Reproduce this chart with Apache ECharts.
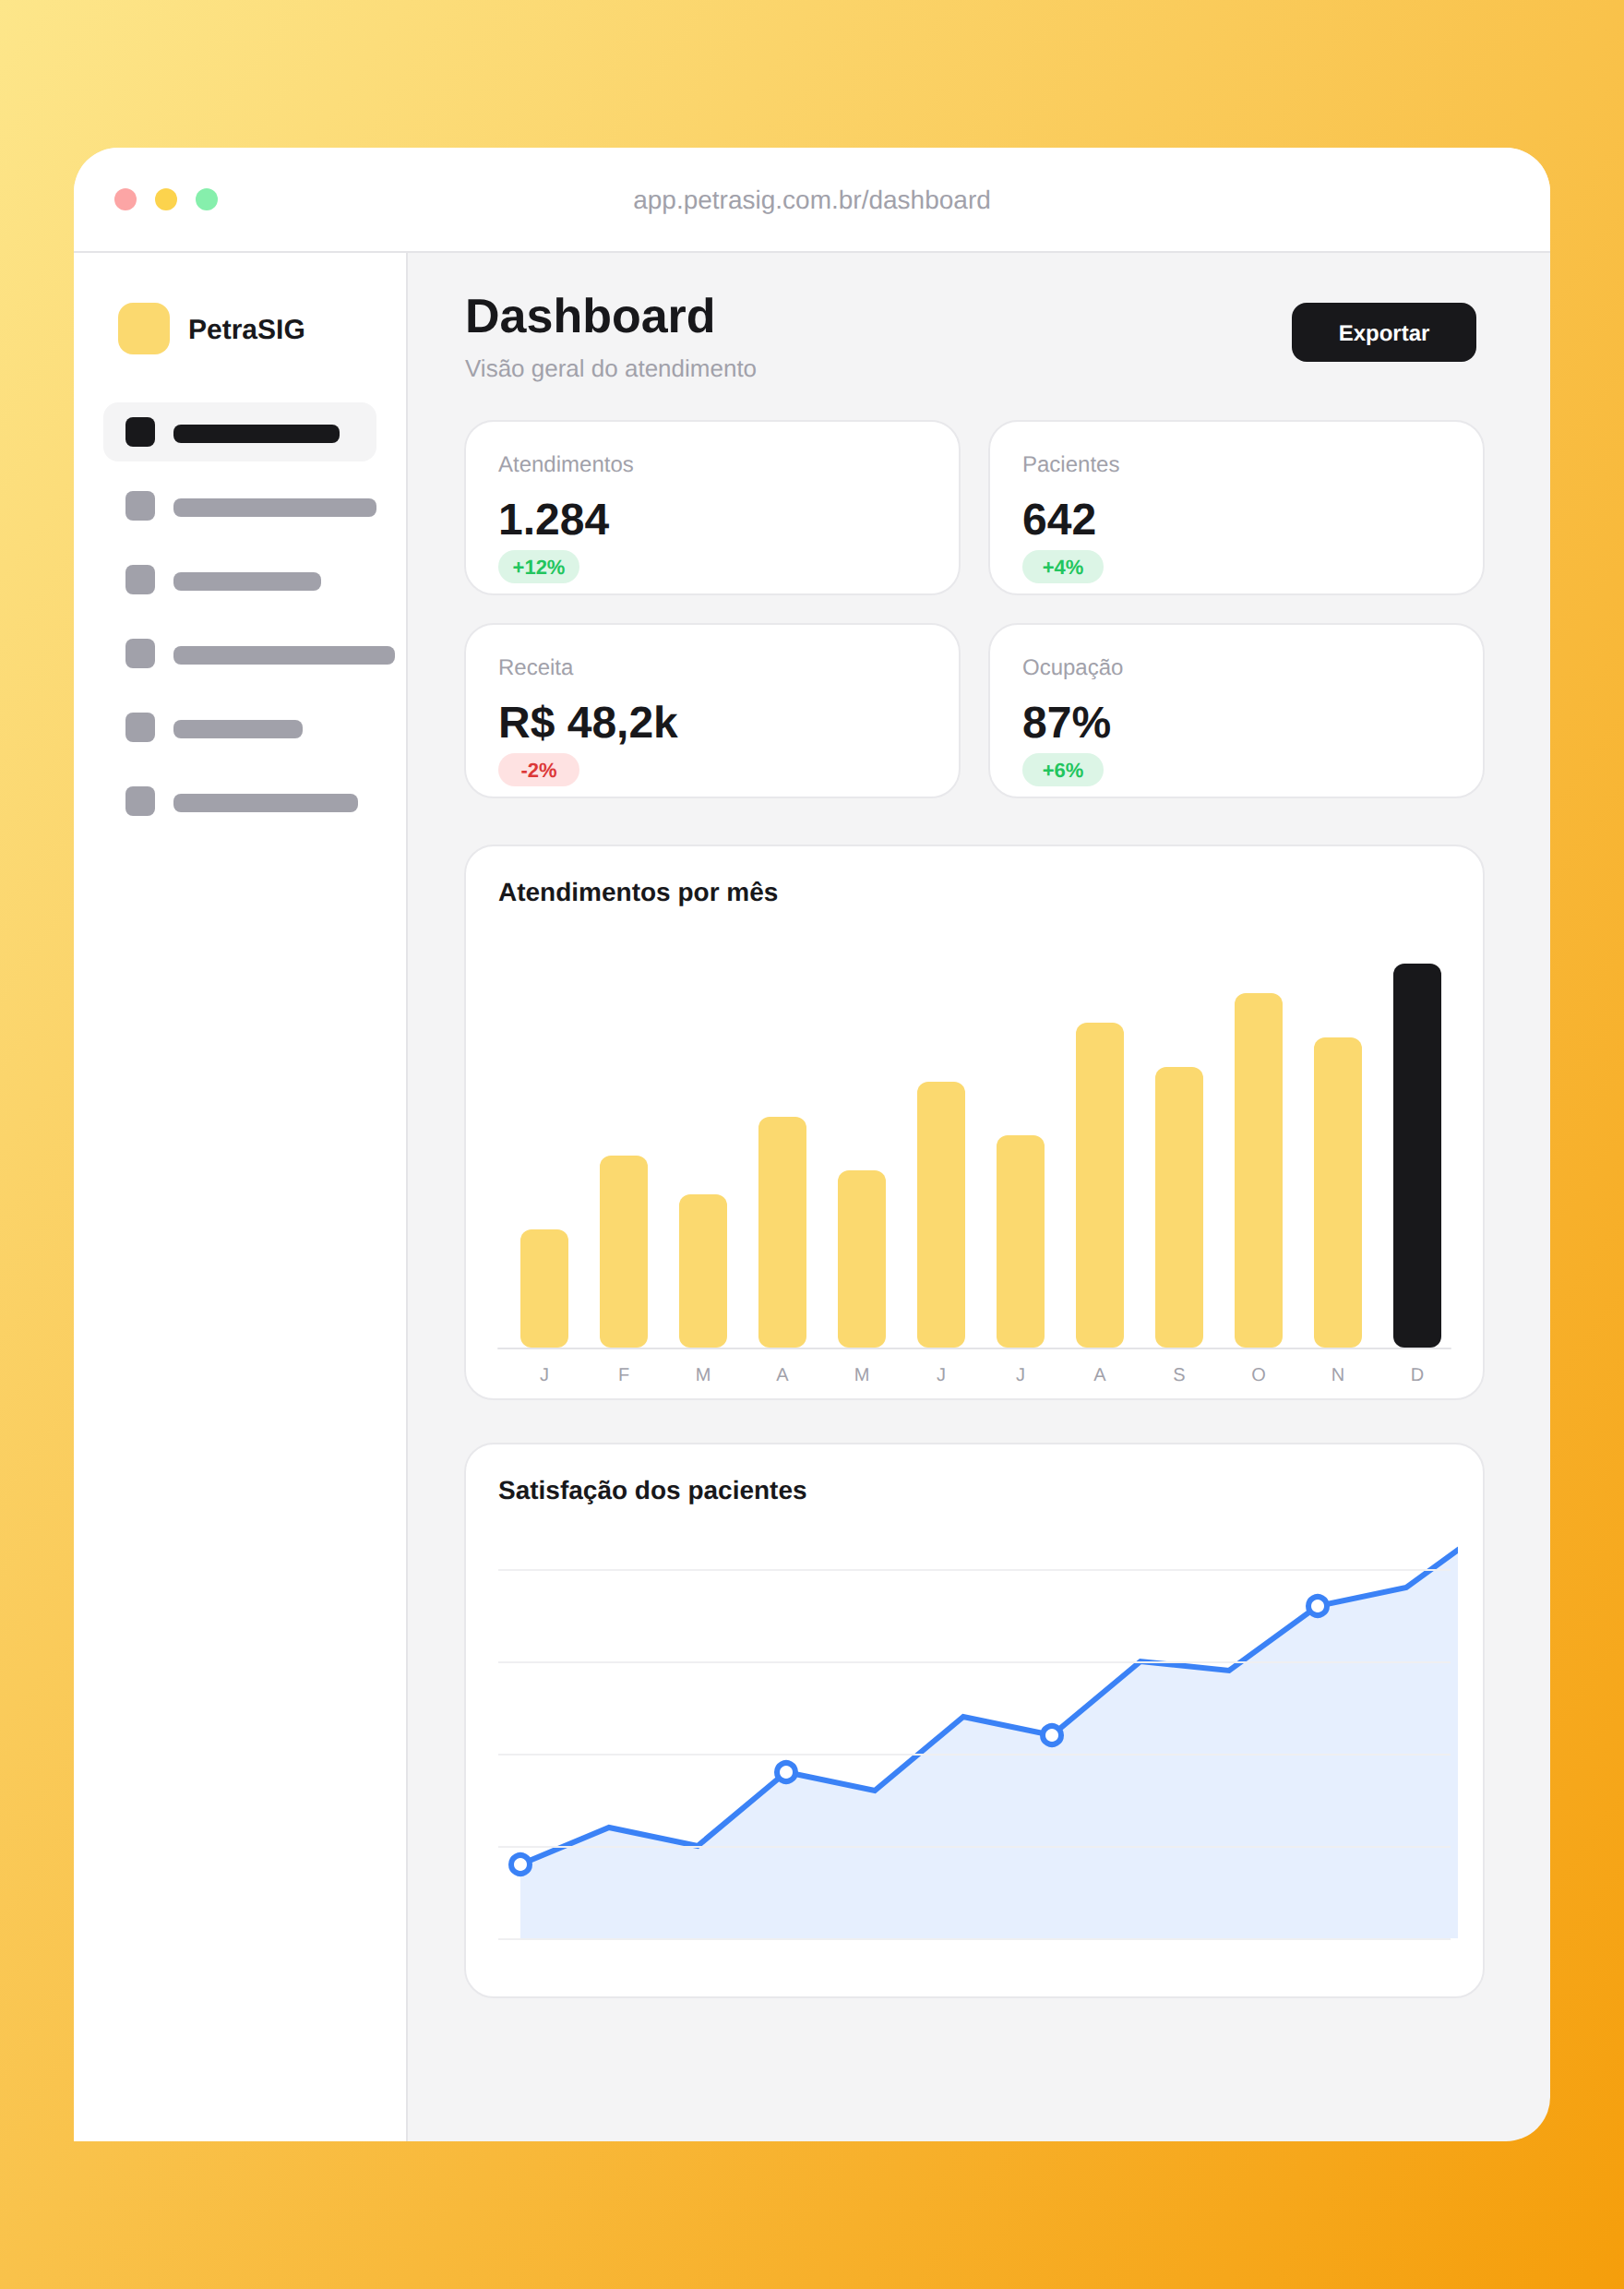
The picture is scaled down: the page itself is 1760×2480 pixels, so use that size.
<!DOCTYPE html>
<html>
<head>
<meta charset="utf-8">
<script src="https://cdn.jsdelivr.net/npm/echarts@6/dist/echarts.min.js"></script>
<style>
  html, body { margin: 0; padding: 0; }
  body {
    position: relative; width: 1760px; height: 2480px; overflow: hidden;
    background: linear-gradient(to bottom right, #fde68a 0%, #f59e0b 100%);
    font-family: "Liberation Sans", Arial, sans-serif;
    text-rendering: geometricPrecision;
  }
  .abs, .abs-text { position: absolute; box-sizing: border-box; }
  .abs-text { white-space: nowrap; line-height: 1; }
  .window { left: 80px; top: 160px; width: 1600px; height: 2160px; background: #f4f4f5; border-radius: 48px; }
  .topbar { left: 80px; top: 160px; width: 1600px; height: 114px; background: #fff; border-bottom: 2px solid #e4e4e7; border-radius: 48px 48px 0 0; }
  .sidebar { left: 80px; top: 274px; width: 362px; height: 2046px; background: #fff; border-right: 2px solid #e4e4e7; }
  .dot { top: 204px; width: 24px; height: 24px; border-radius: 50%; }
  .url { left: 80px; width: 1600px; top: 203px; text-align: center; font-size: 28px; color: #a1a1aa; }
  .logo { left: 128px; top: 328px; width: 56px; height: 56px; border-radius: 16px; background: #fbd96f; }
  .brand { left: 204px; top: 343px; font-size: 30px; font-weight: 700; color: #18181b; }
  .nav-active { left: 112px; top: 436px; width: 296px; height: 64px; border-radius: 16px; background: #f4f4f5; }
  .nav-icon { left: 136px; width: 32px; height: 32px; border-radius: 8px; }
  .nav-bar { left: 188px; height: 20px; border-radius: 8px; }
  .title { left: 504px; top: 317px; font-size: 52px; font-weight: 700; color: #18181b; }
  .subtitle { left: 504px; top: 386px; font-size: 26px; color: #a1a1aa; }
  .export { left: 1400px; top: 328px; width: 200px; height: 64px; border-radius: 16px; background: #18181b; color: #fff; font-size: 24px; font-weight: 700; line-height: 68px; text-align: center; }
  .card { background: #fff; border: 2px solid #e8e8eb; border-radius: 32px; }
  .kpi-label { font-size: 24px; color: #a1a1aa; }
  .kpi-value { font-size: 48px; font-weight: 700; color: #18181b; }
  .pill { width: 88px; height: 36px; border-radius: 18px; font-size: 22px; font-weight: 700; line-height: 37px; text-align: center; }
  .up { background: #dcf5e6; color: #22c55e; }
  .down { background: #fee2e2; color: #dc3838; }
  .chart-title { font-size: 28px; font-weight: 700; color: #18181b; }
</style>
</head>
<body>
<div id="root"></div>
<script>
// dashboard content
var windowDots = ["#fca5a5", "#fcd34d", "#86efac"];
var navBarWidths = [180, 220, 160, 240, 140, 200];

var kpiLabels = ["Atendimentos", "Pacientes", "Receita", "Ocupação"];
var kpiValues = ["1.284", "642", "R$ 48,2k", "87%"];
var kpiDeltas = ["+12%", "+4%", "-2%", "+6%"];

// bar heights
var months = ["J", "F", "M", "A", "M", "J", "J", "A", "S", "O", "N", "D"];
var monthlyVisits = [128, 208, 166, 250, 192, 288, 230, 352, 304, 384, 336, 416];

// the last point runs past the plot edge in the original and gets cut off there
var satisfaction = [80, 120, 100, 180, 160, 240, 220, 300, 290, 360, 380, 450];
var satisfactionMarkers = [0, 3, 6, 9];
var satisfactionTicks = [0, 100, 200, 300, 400];

var root = document.getElementById("root");

function add(cls, style, text) {
  var el = document.createElement("div");
  el.className = cls;
  if (style) el.style.cssText = style;
  if (text) el.textContent = text;
  root.appendChild(el);
  return el;
}

add("abs window");
add("abs topbar");
add("abs sidebar");
windowDots.forEach(function (c, i) {
  add("abs dot", "left:" + (124 + i * 44) + "px;background:" + c);
});
add("abs-text url", "", "app.petrasig.com.br/dashboard");

add("abs logo");
add("abs-text brand", "", "PetraSIG");
add("abs nav-active");
navBarWidths.forEach(function (w, i) {
  var c = i === 0 ? "#18181b" : "#a1a1aa";
  add("abs nav-icon", "top:" + (452 + i * 80) + "px;background:" + c);
  add("abs nav-bar", "top:" + (460 + i * 80) + "px;width:" + w + "px;background:" + c);
});

add("abs-text title", "", "Dashboard");
add("abs-text subtitle", "", "Visão geral do atendimento");
add("abs export", "", "Exportar");

// card strokes sit centred on the box edge, so the outer box is one px bigger each side
kpiLabels.forEach(function (label, i) {
  var x = 504 + (i % 2) * 568;
  var y = 456 + Math.floor(i / 2) * 220;
  add("abs card", "left:" + (x - 1) + "px;top:" + (y - 1) + "px;width:538px;height:190px");
  add("abs-text kpi-label", "left:" + (x + 36) + "px;top:" + (y + 36) + "px", label);
  add("abs-text kpi-value", "left:" + (x + 36) + "px;top:" + (y + 84) + "px", kpiValues[i]);
  var delta = kpiDeltas[i];
  add("abs pill " + (delta.charAt(0) === "-" ? "down" : "up"),
    "left:" + (x + 36) + "px;top:" + (y + 140) + "px", delta);
});

add("abs card", "left:503px;top:915px;width:1106px;height:602px");
add("abs-text chart-title", "left:540px;top:953px", "Atendimentos por mês");
add("abs card", "left:503px;top:1563px;width:1106px;height:602px");
add("abs-text chart-title", "left:540px;top:1601px", "Satisfação dos pacientes");

var barDiv = add("abs", "left:504px;top:916px;width:1104px;height:600px");
var lineDiv = add("abs", "left:504px;top:1564px;width:1104px;height:600px");

var barChart = echarts.init(barDiv, null, { renderer: "svg" });
barChart.setOption({
  animation: false,
  grid: [
    { left: 43, top: 128, width: 1032, height: 416 },
    { left: 36, top: 128, width: 1032, height: 417 }
  ],
  xAxis: [
    {
      type: "category", data: months, gridIndex: 0,
      axisLine: { show: false }, axisTick: { show: false },
      axisLabel: { color: "#a1a1aa", fontSize: 20, fontFamily: "Liberation Sans", margin: 20 }
    },
    {
      type: "value", gridIndex: 1, min: 0, max: 1,
      axisLine: { show: true, onZero: false, lineStyle: { color: "#e4e4e7", width: 2 } },
      axisTick: { show: false }, axisLabel: { show: false }, splitLine: { show: false }
    }
  ],
  yAxis: [
    { type: "value", gridIndex: 0, min: 0, max: 416, show: false },
    { type: "value", gridIndex: 1, min: 0, max: 1, show: false }
  ],
  series: [{
    type: "bar",
    barWidth: 52,
    data: monthlyVisits.map(function (v, i) {
      return { value: v, itemStyle: { color: i === months.length - 1 ? "#18181b" : "#fbd96f" } };
    }),
    itemStyle: { borderRadius: 12 }
  }]
});

var lineChart = echarts.init(lineDiv, null, { renderer: "svg" });
lineChart.setOption({
  animation: false,
  grid: [
    { left: 36, top: 137, width: 1032, height: 400 },
    { left: 60, top: 86, width: 1013, height: 450 }
  ],
  xAxis: [
    { type: "value", gridIndex: 0, min: 0, max: 1, show: false },
    { type: "value", gridIndex: 1, min: 0, max: 10.552, show: false }
  ],
  yAxis: [
    {
      type: "value", gridIndex: 0, z: 5,
      min: satisfactionTicks[0], max: satisfactionTicks[satisfactionTicks.length - 1], interval: 100,
      axisLine: { show: false }, axisTick: { show: false }, axisLabel: { show: false },
      splitLine: { show: true, lineStyle: { color: "#efeff1", width: 2 } }
    },
    { type: "value", gridIndex: 1, min: 0, max: 450, show: false }
  ],
  series: [{
    type: "line",
    xAxisIndex: 1,
    yAxisIndex: 1,
    data: satisfaction.map(function (v, i) { return [i, v]; }),
    showAllSymbol: true,
    symbol: function (v, p) {
      return satisfactionMarkers.indexOf(p.dataIndex) >= 0 ? "circle" : "none";
    },
    symbolSize: 20,
    lineStyle: { color: "#3b82f6", width: 6, join: "miter" },
    itemStyle: { color: "#fff", borderColor: "#3b82f6", borderWidth: 6, opacity: 1 },
    areaStyle: { color: "#3b82f6", opacity: 0.13 }
  }]
});
</script>
</body>
</html>
